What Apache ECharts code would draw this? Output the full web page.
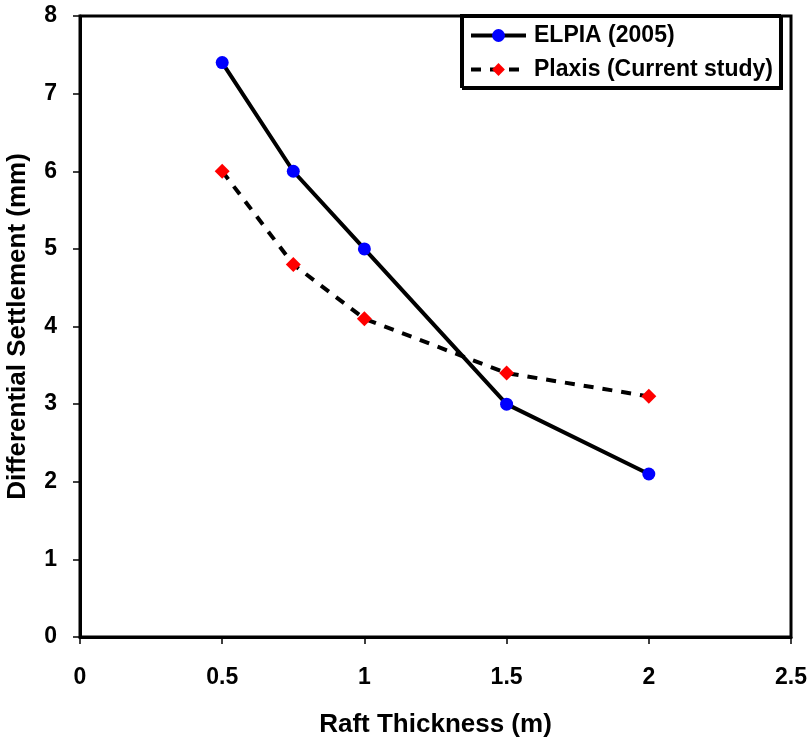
<!DOCTYPE html>
<html><head><meta charset="utf-8">
<script src="https://cdn.jsdelivr.net/npm/echarts@6/dist/echarts.min.js"></script>
<style>html,body{margin:0;padding:0;background:#fff}#c{width:809px;height:738px}</style>
</head><body><div id="c"></div>
<script>
const xValues = [0.5, 0.75, 1, 1.5, 2];
const elpia = [7.4, 6, 5, 3, 2.1];
const plaxis = [6, 4.8, 4.1, 3.4, 3.1];
const seriesNames = ['ELPIA (2005)', 'Plaxis (Current study)'];
const xTitle = 'Raft Thickness (m)';
const yTitle = 'Differential Settlement (mm)';

const font = '"Liberation Sans", Arial, sans-serif';
const chart = echarts.init(document.getElementById('c'));
chart.setOption({
  animation: false,
  backgroundColor: '#fff',
  grid: { left: 80, right: 18, top: 16, bottom: 101, show: true, borderColor: '#000', borderWidth: 3, containLabel: false, outerBoundsMode: 'none' },
  legend: {
    orient: 'vertical', left: 461, top: 15,
    padding: [9, 7, 6, 8],
    backgroundColor: '#fff', borderColor: '#000', borderWidth: 2,
    shadowColor: '#000', shadowOffsetX: 2, shadowOffsetY: 2, shadowBlur: 0,
    itemWidth: 55, itemHeight: 16, itemGap: 11,
    lineStyle: { width: 4 },
    textStyle: { fontFamily: font, fontWeight: 'bold', fontSize: 23, color: '#000', lineHeight: 22, padding: [0, 0, 0, 3] },
    data: seriesNames
  },
  xAxis: {
    type: 'value', min: 0, max: 2.5, interval: 0.5,
    name: xTitle, nameLocation: 'middle', nameGap: 75,
    nameTextStyle: { fontFamily: font, fontWeight: 'bold', fontSize: 26, color: '#000' },
    axisLine: { show: true, lineStyle: { color: '#000', width: 3 } },
    axisTick: { show: true, inside: false, length: 7, lineStyle: { color: '#000', width: 1.5 } },
    axisLabel: { margin: 29, fontFamily: font, fontWeight: 'bold', fontSize: 23, color: '#000' },
    splitLine: { show: false }
  },
  yAxis: {
    type: 'value', min: 0, max: 8, interval: 1,
    name: yTitle, nameLocation: 'middle', nameGap: 49, nameRotate: 90,
    nameTextStyle: { fontFamily: font, fontWeight: 'bold', fontSize: 26, color: '#000' },
    axisLine: { show: true, lineStyle: { color: '#000', width: 3 } },
    axisTick: { show: true, inside: false, length: 7, lineStyle: { color: '#000', width: 1.5 } },
    axisLabel: { margin: 23, fontFamily: font, fontWeight: 'bold', fontSize: 23, color: '#000' },
    splitLine: { show: false }
  },
  series: [
    {
      name: seriesNames[0], type: 'line',
      data: xValues.map((x, i) => [x, elpia[i]]),
      symbol: 'circle', symbolSize: 13,
      itemStyle: { color: '#0000ff' },
      lineStyle: { color: '#000', width: 4 },
      z: 3
    },
    {
      name: seriesNames[1], type: 'line',
      data: xValues.map((x, i) => [x, plaxis[i]]),
      symbol: 'diamond', symbolSize: 15,
      itemStyle: { color: '#ff0000' },
      lineStyle: { color: '#000', width: 4, type: [10, 9] },
      z: 2
    }
  ]
});
</script></body></html>
